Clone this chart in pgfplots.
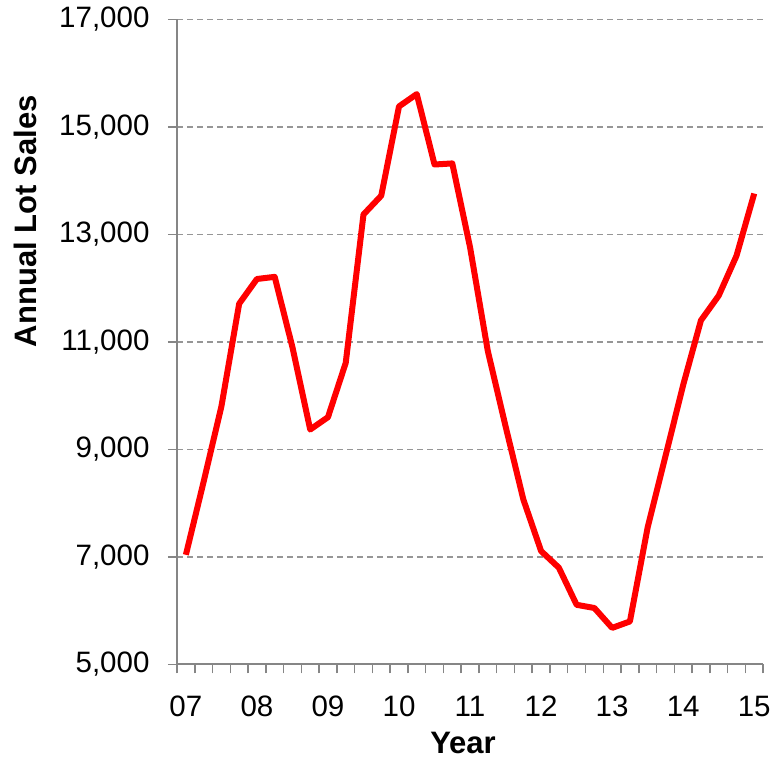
\documentclass[border=0pt]{standalone}
\usepackage{pgfplots}
\pgfplotsset{compat=1.18}
\usepackage{fontspec}
\setmainfont{Liberation Sans}
\definecolor{axgray}{RGB}{134,134,134}
\definecolor{gridgray}{RGB}{150,150,150}
\begin{document}
\begin{tikzpicture}
\begin{axis}[
  scale only axis, width=586pt, height=645pt,
  xmin=-0.5, xmax=32.5, ymin=5000, ymax=17000,
  axis x line*=bottom, axis y line*=left,
  axis line style={axgray, line width=2pt, -},
  xtick={-0.5,0.5,...,32.5}, xticklabels={},
  extra x ticks={0,4,...,32},
  extra x tick labels={07,08,09,10,11,12,13,14,15},
  extra x tick style={major tick length=0pt, xticklabel style={yshift=-28pt}},
  ytick={5000,7000,...,17000},
  scaled y ticks=false,
  major tick length=9pt,
  tick align=outside,
  tick style={axgray, line width=1.5pt},
  ymajorgrids,
  grid style={gridgray, line width=1.3pt, dash pattern=on 6pt off 4pt},
  /pgf/number format/assume math mode=true,
  /pgf/number format/fixed,
  /pgf/number format/1000 sep={,},
  tick label style={font=\fontsize{29.5}{34}\selectfont, black},
  yticklabel style={xshift=-15pt},
  ylabel={Annual Lot Sales},
  xlabel={Year},
  label style={font=\bfseries\fontsize{31}{36}\selectfont},
  ylabel style={at={(rel axis cs:-0.2594,0.687)}, anchor=center},
  xlabel style={at={(rel axis cs:0.488,-0.121)}, anchor=center},
  clip=false,
]
\addplot[red, line width=6pt, line join=round] coordinates {
(0,7040) (1,8400) (2,9800) (3,11710) (4,12170) (5,12210) (6,10900)
(7,9370) (8,9600) (9,10610) (10,13370) (11,13720) (12,15380) (13,15610)
(14,14300) (15,14320) (16,12760) (17,10830) (18,9430) (19,8070) (20,7110)
(21,6800) (22,6110) (23,6050) (24,5680) (25,5800) (26,7550) (27,8870)
(28,10200) (29,11400) (30,11860) (31,12600) (32,13760)
};
\path (rel axis cs:-0.302,-0.1426) rectangle (rel axis cs:1.022,1.030);
\end{axis}
\end{tikzpicture}
\end{document}
